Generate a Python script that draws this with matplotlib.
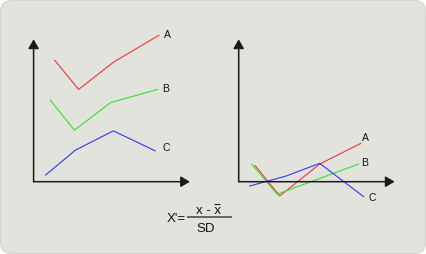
"""Sketch: raw series vs the same series after z-scoring (x' = (x - mean) / SD)."""

import matplotlib

matplotlib.use("Agg")
import matplotlib.pyplot as plt  # noqa: E402
from matplotlib.patches import FancyBboxPatch  # noqa: E402

plt.rcParams["font.family"] = ["Liberation Sans", "DejaVu Sans"]

# values in arbitrary units, axes run 0..10 on both sides
SERIES = ["A", "B", "C"]
COLORS = {"A": "#ee3535", "B": "#35dd35", "C": "#3535ee"}

# raw series (left panel)
RAW_X = {
    "A": [1.35, 2.88, 5.13, 8.01],
    "B": [1.07, 2.61, 4.93, 7.93],
    "C": [0.77, 2.68, 5.10, 7.77],
}
RAW_Y = {
    "A": [8.53, 6.48, 8.41, 10.28],
    "B": [5.73, 3.62, 5.56, 6.48],
    "C": [0.47, 2.22, 3.57, 2.17],
}

# standardised series (right panel)
STD_X = {
    "A": [1.06, 2.63, 5.19, 7.82],
    "B": [0.85, 2.46, 4.76, 7.68],
    "C": [0.71, 3.05, 5.19, 8.01],
}
STD_Y = {
    "A": [1.12, -1.00, 1.24, 2.69],
    "B": [1.22, -0.88, 0.05, 1.24],
    "C": [-0.30, 0.40, 1.29, -1.05],
}

W, H = 426, 254
fig = plt.figure(figsize=(W / 100, H / 100), dpi=100)
fig.patch.set_facecolor("white")

# background card + formula, drawn in pixel space
bg = fig.add_axes([0, 0, 1, 1])
bg.set_xlim(0, W)
bg.set_ylim(H, 0)
bg.axis("off")
bg.add_patch(
    FancyBboxPatch(
        (0.5, 0.5),
        W - 1,
        H - 1,
        boxstyle="round,pad=0,rounding_size=11",
        facecolor="#e2e3dc",
        edgecolor="#d4d5ce",
        lw=0.8,
    )
)
bg.text(186, 218.5, "X'=", ha="right", va="center", fontsize=9.5, color="#111111")
bg.plot([187, 231.5], [217, 217], color="#444444", lw=1.1, solid_capstyle="butt")
bg.text(208, 210.5, "x - x", ha="center", va="center", fontsize=9.5, color="#111111")
bg.plot([213.5, 219.5], [204.2, 204.2], color="#222222", lw=0.8, solid_capstyle="butt")
bg.text(206, 228.5, "SD", ha="center", va="center", fontsize=9.5, color="#111111")

LABEL_OFFSETS = {
    "left": {"A": (3.6, 0.5), "B": (3.3, 0.0), "C": (5.0, 1.7)},
    "right": {"A": (1.0, 3.6), "B": (1.6, 0.5), "C": (3.8, -0.7)},
}


def panel(rect, xs, ys, offsets):
    ax = fig.add_axes(rect)
    ax.set_xlim(0, 10)
    ax.set_ylim(0, 10)
    ax.axis("off")
    arrow = dict(arrowstyle="-|>,head_length=0.55,head_width=0.32",
                 mutation_scale=10, color="#1a1a1a", lw=1.1,
                 shrinkA=0, shrinkB=0)
    ax.annotate("", xy=(1, 0), xytext=(0, 0), xycoords="axes fraction",
                arrowprops=arrow)
    ax.annotate("", xy=(0, 1), xytext=(0, 0), xycoords="axes fraction",
                arrowprops=arrow)
    for s in SERIES:
        ax.plot(xs[s], ys[s], color=COLORS[s], lw=0.8, clip_on=False)
        ax.annotate(s, (xs[s][-1], ys[s][-1]), xytext=offsets[s],
                    textcoords="offset points", ha="left", va="center",
                    fontsize=7.5, color="#111111", annotation_clip=False)
    return ax


# origin (33.6, 181.7) px, tips at x=190 / y=39.3
panel([33.6 / W, (H - 181.7) / H, (190 - 33.6) / W, (181.7 - 39.3) / H],
      RAW_X, RAW_Y, LABEL_OFFSETS["left"])
# origin (238.7, 181.7) px, tips at x=394.7 / y=39.3
panel([238.7 / W, (H - 181.7) / H, (394.7 - 238.7) / W, (181.7 - 39.3) / H],
      STD_X, STD_Y, LABEL_OFFSETS["right"])

fig.savefig("out.png", dpi=100)
